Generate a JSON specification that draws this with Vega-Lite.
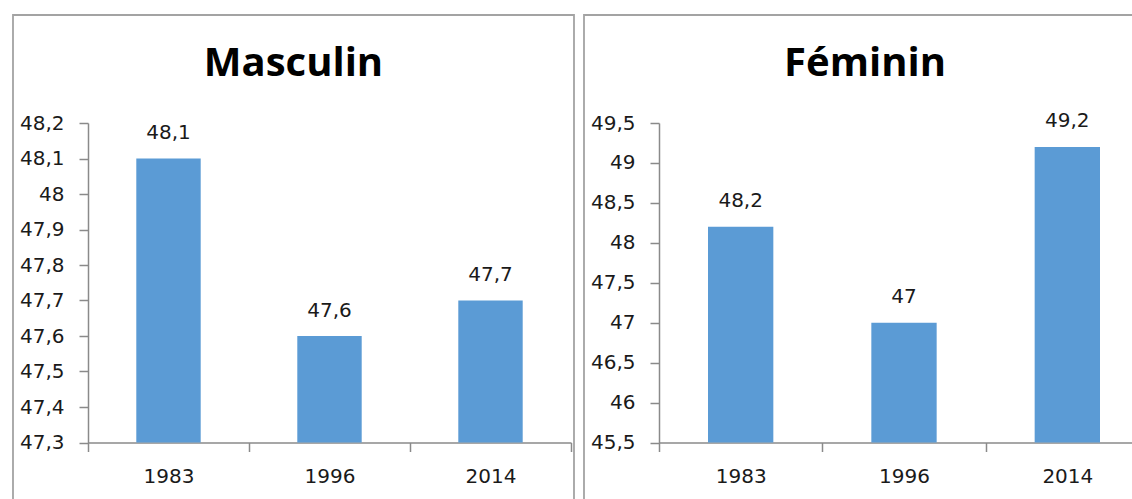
{
  "$schema": "https://vega.github.io/schema/vega-lite/v6.json",
  "padding": {"left": 12, "top": 14, "right": 0, "bottom": 0},
  "background": "white",
  "spacing": 8,
  "config": {
    "locale": {"number": {"decimal": ",", "thousands": " ", "grouping": [3], "currency": ["", " €"]}},
    "view": {"stroke": "#a3a3a3", "strokeWidth": 1.8},
    "axis": {
      "grid": false,
      "domainColor": "#8a8a8a",
      "domainWidth": 1.5,
      "tickColor": "#8a8a8a",
      "tickWidth": 1.5,
      "tickSize": 9,
      "labelFont": "DejaVu Sans",
      "labelFontSize": 20,
      "labelColor": "#1a1a1a",
      "title": null
    },
    "title": {
      "font": "Open Sans",
      "fontSize": 40,
      "fontWeight": "bold",
      "color": "#000000",
      "anchor": "middle",
      "baseline": "alphabetic",
      "offset": -69
    }
  },
  "datasets": {
    "masculin": [
      {"annee": "1983", "valeur": 48.1},
      {"annee": "1996", "valeur": 47.6},
      {"annee": "2014", "valeur": 47.7}
    ],
    "feminin": [
      {"annee": "1983", "valeur": 48.2},
      {"annee": "1996", "valeur": 47.0},
      {"annee": "2014", "valeur": 49.2}
    ]
  },
  "hconcat": [
    {
      "width": 561,
      "height": 490,
      "title": "Masculin",
      "data": {"name": "masculin"},
      "encoding": {
        "x": {
          "field": "annee",
          "type": "nominal",
          "sort": null,
          "scale": {"range": [75, 558], "paddingInner": 0, "paddingOuter": 0},
          "axis": {"offset": -62.5, "labelAngle": 0, "tickBand": "extent", "labelPadding": 15}
        },
        "y": {
          "field": "valeur",
          "type": "quantitative",
          "scale": {"domain": [47.3, 48.2], "range": [427.5, 108], "nice": false, "zero": false},
          "axis": {"offset": -75, "values": [47.3, 47.4, 47.5, 47.6, 47.7, 47.8, 47.9, 48.0, 48.1, 48.2], "format": ".1~f", "labelPadding": 15}
        }
      },
      "layer": [
        {"mark": {"type": "bar", "color": "#5B9BD5", "width": {"band": 0.4}}, "encoding": {"y2": {"datum": 47.3}}},
        {"mark": {"type": "text", "baseline": "alphabetic", "dy": -19.5, "font": "DejaVu Sans", "fontSize": 20, "color": "#1a1a1a"},
         "encoding": {"text": {"field": "valeur", "type": "quantitative", "format": ".1~f"}}}
      ]
    },
    {
      "width": 562,
      "height": 490,
      "title": "Féminin",
      "data": {"name": "feminin"},
      "encoding": {
        "x": {
          "field": "annee",
          "type": "nominal",
          "sort": null,
          "scale": {"range": [75, 565], "paddingInner": 0, "paddingOuter": 0},
          "axis": {"offset": -62.5, "labelAngle": 0, "tickBand": "extent", "labelPadding": 15}
        },
        "y": {
          "field": "valeur",
          "type": "quantitative",
          "scale": {"domain": [45.5, 49.5], "range": [427.5, 108], "nice": false, "zero": false},
          "axis": {"offset": -75, "values": [45.5, 46, 46.5, 47, 47.5, 48, 48.5, 49, 49.5], "format": ".1~f", "labelPadding": 15}
        }
      },
      "layer": [
        {"mark": {"type": "bar", "color": "#5B9BD5", "width": {"band": 0.4}}, "encoding": {"y2": {"datum": 45.5}}},
        {"mark": {"type": "text", "baseline": "alphabetic", "dy": -19.5, "font": "DejaVu Sans", "fontSize": 20, "color": "#1a1a1a"},
         "encoding": {"text": {"field": "valeur", "type": "quantitative", "format": ".1~f"}}}
      ]
    }
  ]
}
